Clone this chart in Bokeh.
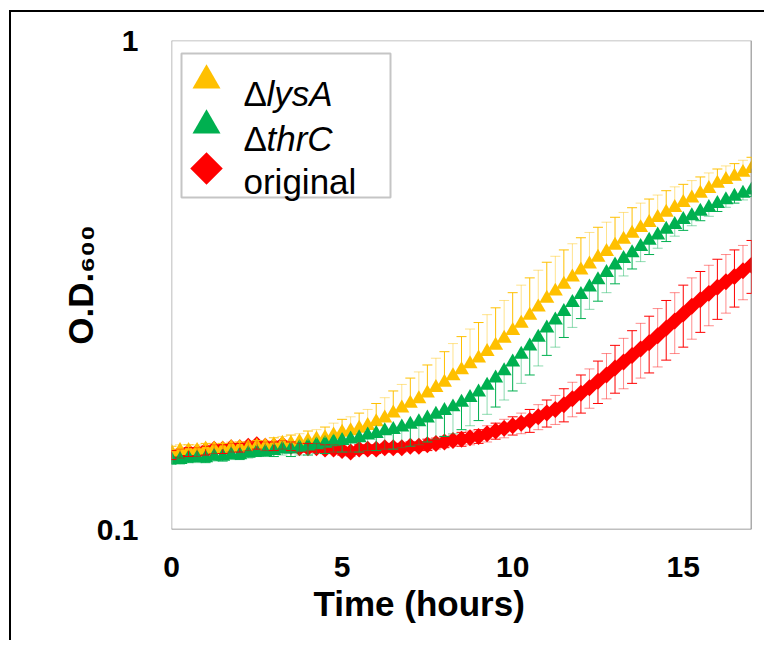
import math
from bokeh.plotting import figure
from bokeh.models import (ColumnDataSource, Whisker, TeeHead, Label, Span,
                          FixedTicker, BoxAnnotation, Range1d, Title)
from bokeh.embed import file_html
from bokeh.resources import INLINE

# ---------------- data ----------------
hours = [i * 0.25 for i in range(69)]

lysA = [0.144, 0.145, 0.145, 0.145, 0.146, 0.146, 0.146, 0.147, 0.147, 0.147,
        0.148, 0.148, 0.149, 0.150, 0.150, 0.151, 0.152, 0.153, 0.154, 0.156,
        0.158, 0.159, 0.161, 0.163, 0.166, 0.169, 0.173, 0.177, 0.181, 0.185,
        0.190, 0.195, 0.200, 0.206, 0.212, 0.218, 0.224, 0.231, 0.238, 0.246,
        0.255, 0.264, 0.274, 0.285, 0.297, 0.307, 0.317, 0.328, 0.339, 0.349,
        0.360, 0.370, 0.381, 0.392, 0.403, 0.414, 0.424, 0.434, 0.445, 0.455,
        0.466, 0.476, 0.487, 0.498, 0.510, 0.519, 0.527, 0.537, 0.547]
lysA_err = [0.004, 0.004, 0.004, 0.004, 0.004, 0.004, 0.004, 0.004, 0.004, 0.004,
            0.004, 0.004, 0.005, 0.005, 0.006, 0.006, 0.007, 0.007, 0.008, 0.009,
            0.010, 0.011, 0.012, 0.013, 0.015, 0.017, 0.019, 0.021, 0.023, 0.025,
            0.027, 0.029, 0.031, 0.034, 0.036, 0.039, 0.041, 0.044, 0.046, 0.048,
            0.050, 0.052, 0.053, 0.054, 0.055, 0.055, 0.056, 0.056, 0.056, 0.056,
            0.055, 0.055, 0.054, 0.053, 0.052, 0.051, 0.050, 0.049, 0.048, 0.047,
            0.042, 0.041, 0.039, 0.038, 0.036, 0.035, 0.033, 0.032, 0.030]

thrC = [0.139, 0.139, 0.140, 0.140, 0.140, 0.141, 0.141, 0.142, 0.142, 0.143,
        0.144, 0.144, 0.145, 0.146, 0.146, 0.147, 0.148, 0.149, 0.150, 0.151,
        0.152, 0.153, 0.154, 0.156, 0.157, 0.159, 0.160, 0.162, 0.164, 0.166,
        0.169, 0.172, 0.175, 0.178, 0.182, 0.186, 0.191, 0.197, 0.204, 0.211,
        0.220, 0.228, 0.237, 0.247, 0.258, 0.268, 0.279, 0.291, 0.302, 0.313,
        0.324, 0.335, 0.347, 0.358, 0.368, 0.379, 0.390, 0.400, 0.411, 0.420,
        0.430, 0.438, 0.447, 0.455, 0.464, 0.472, 0.480, 0.487, 0.494]
thrC_err = [0.003, 0.003, 0.003, 0.003, 0.003, 0.003, 0.003, 0.003, 0.003, 0.003,
            0.003, 0.003, 0.004, 0.004, 0.005, 0.005, 0.006, 0.006, 0.007, 0.007,
            0.008, 0.009, 0.010, 0.011, 0.012, 0.013, 0.014, 0.015, 0.016, 0.017,
            0.018, 0.019, 0.020, 0.021, 0.022, 0.023, 0.024, 0.025, 0.026, 0.027,
            0.028, 0.029, 0.030, 0.031, 0.031, 0.032, 0.032, 0.032, 0.032, 0.031,
            0.031, 0.030, 0.029, 0.028, 0.027, 0.026, 0.025, 0.024, 0.023, 0.022,
            0.021, 0.020, 0.019, 0.018, 0.017, 0.016, 0.015, 0.015, 0.014]

original = [0.142, 0.143, 0.144, 0.144, 0.145, 0.146, 0.146, 0.147, 0.147, 0.148,
            0.149, 0.148, 0.148, 0.149, 0.148, 0.147, 0.147, 0.147, 0.146, 0.146,
            0.145, 0.144, 0.146, 0.146, 0.146, 0.147, 0.147, 0.147, 0.148, 0.148,
            0.149, 0.150, 0.151, 0.152, 0.153, 0.154, 0.155, 0.157, 0.159, 0.161,
            0.163, 0.165, 0.167, 0.170, 0.173, 0.176, 0.180, 0.185, 0.190, 0.195,
            0.201, 0.207, 0.214, 0.220, 0.227, 0.234, 0.241, 0.249, 0.258, 0.267,
            0.276, 0.286, 0.295, 0.304, 0.313, 0.321, 0.329, 0.338, 0.347]
original_err = [0.003, 0.003, 0.003, 0.003, 0.003, 0.003, 0.003, 0.003, 0.003, 0.003,
                0.003, 0.003, 0.003, 0.003, 0.003, 0.003, 0.003, 0.003, 0.003, 0.003,
                0.003, 0.003, 0.003, 0.003, 0.003, 0.003, 0.003, 0.003, 0.003, 0.003,
                0.004, 0.004, 0.004, 0.004, 0.005, 0.005, 0.005, 0.006, 0.006, 0.007,
                0.007, 0.008, 0.009, 0.010, 0.011, 0.012, 0.014, 0.015, 0.017, 0.018,
                0.020, 0.022, 0.024, 0.026, 0.028, 0.030, 0.032, 0.034, 0.036, 0.038,
                0.040, 0.041, 0.042, 0.043, 0.044, 0.044, 0.044, 0.043, 0.043]

x_ticks = [0, 5, 10, 15]
y_ticks = [0.1, 1]
y_tick_labels = {0.1: "0.1", 1: "1"}
X_START, X_END = 0, 17
Y_START, Y_END = 0.1, 1

YELLOW = "#FFC000"
GREEN = "#00B050"
RED = "#FF0000"
FONT = "Liberation Sans"

# ---------------- layout ----------------
W, H = 755, 630
ORIGIN_X, ORIGIN_Y = 11, 12          # page position of the canvas
REF_FL, REF_FT, REF_FW, REF_FH = 171, 40, 580, 489   # frame in page px


def dx(px):
    return X_START + (px - REF_FL) / REF_FW * (X_END - X_START)


def dy(py):
    lo, hi = math.log10(Y_START), math.log10(Y_END)
    return 10 ** (hi - (py - REF_FT) / REF_FH * (hi - lo))


p = figure(width=W, height=H, y_axis_type="log",
           x_range=Range1d(X_START, X_END), y_range=Range1d(Y_START, Y_END),
           output_backend="svg", toolbar_location=None,
           min_border_left=REF_FL - ORIGIN_X,
           min_border_right=W - (REF_FL + REF_FW - ORIGIN_X),
           min_border_top=REF_FT - ORIGIN_Y,
           min_border_bottom=H - (REF_FT + REF_FH - ORIGIN_Y),
           styles={"margin-left": "9px", "margin-top": "10px",
                   "border-left": "2px solid black",
                   "border-top": "2px solid black"})
p.outline_line_color = None
p.xgrid.visible = False
p.ygrid.visible = False

for ax in (p.xaxis, p.yaxis):
    ax.axis_line_color = None
    ax.major_tick_line_color = None
    ax.minor_tick_line_color = None
    ax.major_tick_out = 0
    ax.major_tick_in = 0
    ax.major_label_text_font = FONT
    ax.major_label_text_font_style = "bold"
    ax.major_label_text_font_size = "30px"
    ax.major_label_text_color = "black"

p.xaxis.ticker = FixedTicker(ticks=x_ticks)
p.yaxis.ticker = FixedTicker(ticks=y_ticks)
p.yaxis.major_label_overrides = y_tick_labels
p.yaxis.major_label_standoff = 33
p.xaxis.major_label_standoff = 27

# y-axis title: O.D. with subscript 600
p.yaxis.axis_label = "O.D.₆₀₀"
p.yaxis.axis_label_text_font = FONT
p.yaxis.axis_label_text_font_size = "35px"
p.yaxis.axis_label_text_font_style = "bold"
p.yaxis.axis_label_text_color = "black"
p.yaxis.axis_label_standoff = -6

# frame edges
p.add_layout(Span(location=X_START, dimension="height", line_color="#a6a6a6", line_width=1.5))
p.add_layout(Span(location=X_END, dimension="height", line_color="#595959", line_width=1.5))
p.add_layout(Span(location=Y_END, dimension="width", line_color="#b0b0b0", line_width=1.5))
p.add_layout(Span(location=Y_START, dimension="width", line_color="#808080", line_width=1.5))


def add_series(vals, errs, color, marker, size, angle, up, down):
    src = ColumnDataSource(dict(x=hours, y=vals))
    p.scatter("x", "y", source=src, marker=marker, size=size, angle=angle,
              fill_color=color, line_color=None)
    for parity, alpha in ((0, 1.0), (1, 0.45)):
        idx = [i for i in range(len(hours)) if i % 2 == parity]
        xs = [hours[i] for i in idx]
        upper = [vals[i] + (errs[i] if up else 0) for i in idx]
        lower = [vals[i] - (errs[i] if down else 0) for i in idx]
        wsrc = ColumnDataSource(dict(base=xs, upper=upper, lower=lower))

        def head():
            return TeeHead(size=10, line_color=color, line_alpha=alpha, line_width=1)

        w = Whisker(source=wsrc, base="base", upper="upper", lower="lower",
                    dimension="height", line_color=color, line_alpha=alpha,
                    line_width=1, level="annotation",
                    upper_head=head() if up else None,
                    lower_head=head() if down else None)
        p.add_layout(w)


add_series(original, original_err, RED, "square", 12, math.pi / 4, True, True)
add_series(lysA, lysA_err, YELLOW, "triangle", 15, 0, True, False)
add_series(thrC, thrC_err, GREEN, "triangle", 15, 0, False, True)

# ---------------- legend (drawn by hand for mixed italic text) ----------------
p.add_layout(BoxAnnotation(left=dx(181), right=dx(390), top=dy(53), bottom=dy(197),
                           fill_color=None, line_color="#404040", line_width=2))
p.scatter([dx(206)], [dy(80)], marker="triangle", size=28, fill_color=YELLOW, line_color=None)
p.scatter([dx(206)], [dy(125)], marker="triangle", size=28, fill_color=GREEN, line_color=None)
p.scatter([dx(206)], [dy(168)], marker="square", angle=math.pi / 4, size=23,
          fill_color=RED, line_color=None)

leg_rows = [("Δ", "lysA", dy(93)), ("Δ", "thrC", dy(138))]
for delta, name, yb in leg_rows:
    p.add_layout(Label(x=dx(243), y=yb, text=delta, text_font=FONT, text_color="black",
                       text_font_size="35px", text_baseline="alphabetic"))
    p.add_layout(Label(x=dx(243), y=yb, x_offset=23, text=name, text_font=FONT,
                       text_color="black", text_font_size="35px",
                       text_font_style="italic", text_baseline="alphabetic"))
p.add_layout(Label(x=dx(243), y=dy(181), text="original", text_font=FONT, text_color="black",
                   text_font_size="35px", text_baseline="alphabetic"))

# ---------------- x-axis title ----------------
p.add_layout(Title(text="Time (hours)", align="left", offset=313 - REF_FL,
                   standoff=4, text_font=FONT, text_font_size="35px",
                   text_font_style="bold", text_color="black"), "below")

open("out.html", "w").write(file_html(p, INLINE))
